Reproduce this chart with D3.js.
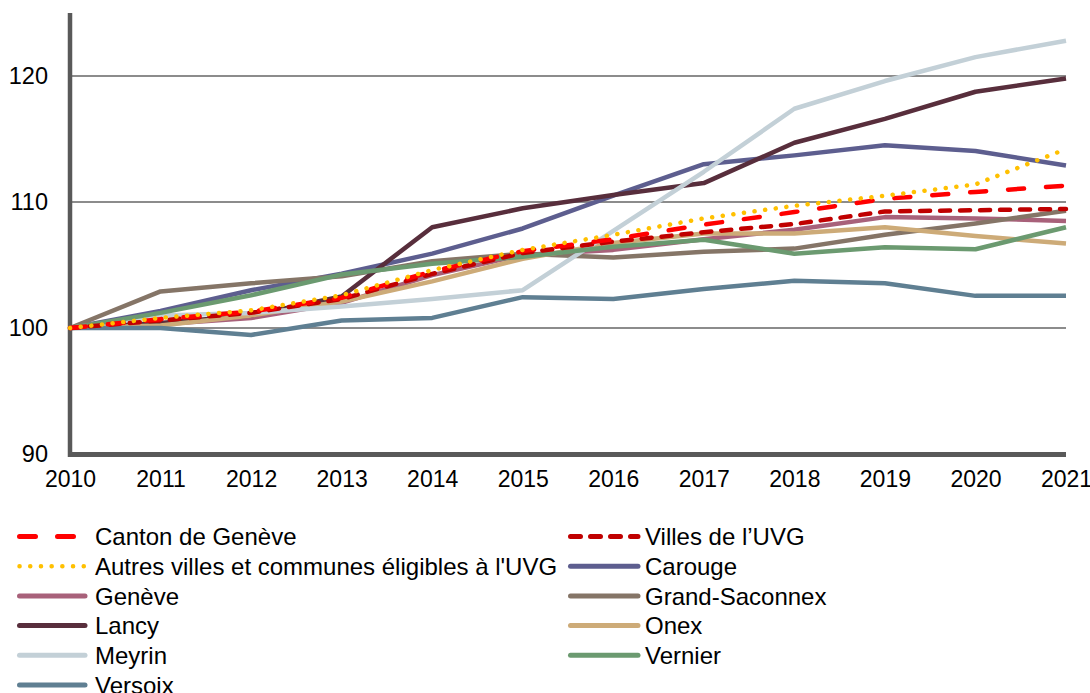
<!DOCTYPE html>
<html><head><meta charset="utf-8">
<script src="https://cdn.jsdelivr.net/npm/d3@7"></script>
<style>
html,body{margin:0;padding:0;background:#fff;}
svg{display:block;font-family:"Liberation Sans",Arial,Helvetica,sans-serif;}
</style></head>
<body>
<svg id="chart" width="1090" height="693"></svg>
<script>
const years = [2010,2011,2012,2013,2014,2015,2016,2017,2018,2019,2020,2021];
const yTicks = [90,100,110,120];

const canton   = [100,100.7,101.3,102.4,104.5,106.1,107.05,108.2,109.2,110.25,110.8,111.3];
const villes   = [100,100.6,101.2,102.3,104.3,105.95,106.85,107.6,108.25,109.25,109.35,109.45];
const autres   = [100,100.8,101.4,102.6,104.6,106.2,107.4,108.7,109.7,110.5,111.4,114.2];
const carouge  = [100,101.35,103.0,104.3,105.9,107.9,110.5,113.0,113.7,114.5,114.05,112.9];
const geneve   = [100,100.3,100.8,102.0,104.2,105.8,106.2,107.05,107.8,108.8,108.7,108.5];
const grandSac = [100,102.9,103.55,104.1,105.3,105.9,105.6,106.05,106.3,107.4,108.3,109.3];
const lancy    = [100,100.4,101.0,102.5,108.0,109.5,110.55,111.5,114.7,116.6,118.75,119.8];
const onex     = [100,100.2,101.0,102.1,103.7,105.5,106.75,107.5,107.5,108.0,107.3,106.7];
const meyrin   = [100,101.0,101.2,101.7,102.3,103.0,107.7,112.4,117.4,119.6,121.5,122.8];
const vernier  = [100,101.2,102.6,104.25,105.1,105.65,106.45,107.0,105.9,106.4,106.25,108.0];
const versoix  = [100,100.0,99.45,100.6,100.8,102.45,102.3,103.1,103.75,103.55,102.55,102.55];

const series = [
  {name:"Carouge", values:carouge, color:"#5d5e8f", dash:null},
  {name:"Genève", values:geneve, color:"#a8617a", dash:null},
  {name:"Grand-Saconnex", values:grandSac, color:"#857567", dash:null},
  {name:"Lancy", values:lancy, color:"#582e3c", dash:null},
  {name:"Onex", values:onex, color:"#cdab78", dash:null},
  {name:"Meyrin", values:meyrin, color:"#c3d0d7", dash:null},
  {name:"Vernier", values:vernier, color:"#6b9a70", dash:null},
  {name:"Versoix", values:versoix, color:"#5f7f92", dash:null},
  {name:"Villes de l’UVG", values:villes, color:"#c00000", dash:"10,10"},
  {name:"Canton de Genève", values:canton, color:"#ff0000", dash:"16,22"},
  {name:"Autres villes et communes éligibles à l'UVG", values:autres, color:"#ffc000", dash:"0.1,10.6", width:4.5}
];

const legendOrder = [
  "Canton de Genève","Villes de l’UVG",
  "Autres villes et communes éligibles à l'UVG","Carouge",
  "Genève","Grand-Saconnex",
  "Lancy","Onex",
  "Meyrin","Vernier",
  "Versoix"
];

const svg = d3.select("#chart");
const x = d3.scaleLinear().domain([2010,2021]).range([70,1066]);
const y = d3.scaleLinear().domain([90,125]).range([454,13]);

// gridlines
svg.append("g").selectAll("line").data(yTicks.filter(t=>t>90)).join("line")
  .attr("x1",72).attr("x2",1066)
  .attr("y1",d=>y(d)).attr("y2",d=>y(d))
  .attr("stroke","#8c8c8c").attr("stroke-width",2);

// y axis
const yAxis = d3.axisLeft(y).tickValues(yTicks).tickSize(0).tickPadding(22).tickFormat(d3.format("d"));
const gy = svg.append("g").attr("transform","translate(70,0)").call(yAxis);
gy.select(".domain").remove();
gy.selectAll("text").attr("font-size",23.5).attr("fill","#000").attr("font-family","Liberation Sans, Arial, sans-serif");

// x axis
const xAxis = d3.axisBottom(x).tickValues(years).tickSize(0).tickPadding(17).tickFormat(d3.format("d"));
const gx = svg.append("g").attr("transform","translate(0,454)").call(xAxis);
gx.select(".domain").remove();
gx.selectAll("text").attr("font-size",23).attr("fill","#000").attr("font-family","Liberation Sans, Arial, sans-serif");

// axis lines
svg.append("line").attr("x1",70).attr("x2",70).attr("y1",y(125)).attr("y2",457)
  .attr("stroke","#595959").attr("stroke-width",4.5);
svg.append("line").attr("x1",68).attr("x2",1066).attr("y1",454.5).attr("y2",454.5)
  .attr("stroke","#595959").attr("stroke-width",5);

// lines
const line = d3.line().x((d,i)=>x(years[i])).y(d=>y(d));
svg.append("g").selectAll("path").data(series).join("path")
  .attr("d",d=>line(d.values))
  .attr("fill","none")
  .attr("stroke",d=>d.color)
  .attr("stroke-width",d=>d.width||4.5)
  .attr("stroke-linejoin","round")
  .attr("stroke-linecap",d=>d.dash?"round":"butt")
  .attr("stroke-dasharray",d=>d.dash);

// legend
const lg = svg.append("g");
legendOrder.forEach((name,i)=>{
  const s = series.find(d=>d.name===name);
  const col = i%2, row = Math.floor(i/2);
  const cy = 536.5 + row*29.7;
  const x0 = col===0 ? 19.5 : 570.5;
  const x1 = col===0 ? 85 : 638;
  const tx = col===0 ? 95 : 645;
  lg.append("line").attr("x1",x0).attr("x2",x1).attr("y1",cy).attr("y2",cy)
    .attr("stroke",s.color).attr("stroke-width",s.width||5)
    .attr("stroke-linecap","round")
    .attr("stroke-dasharray",s.dash);
  lg.append("text").attr("x",tx).attr("y",cy).attr("dy","0.36em")
    .attr("font-size",24).attr("fill","#000").text(name);
});
</script>
</body></html>
